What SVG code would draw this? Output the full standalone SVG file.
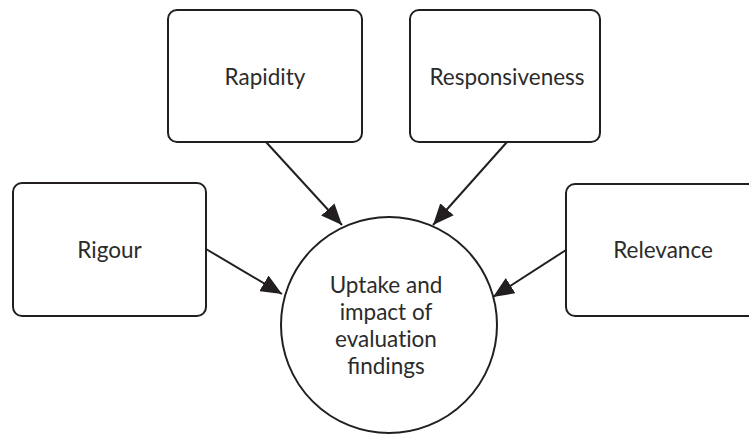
<svg xmlns="http://www.w3.org/2000/svg" width="749" height="437" viewBox="0 0 749 437">
<style>
.box{fill:#fff;stroke:#231f20;stroke-width:2}
.lbl{font-family:Lato,"Liberation Sans",sans-serif;font-size:22.5px;fill:#2b2b2b;text-anchor:middle}
.nolig{font-variant-ligatures:none}
.conn{stroke:#231f20;stroke-width:2;fill:none}
</style>
<defs>
<marker id="ah" markerUnits="userSpaceOnUse" markerWidth="22" markerHeight="18" refX="21" refY="9" orient="auto">
<path d="M0,0 L21,9 L0,18 Z" fill="#231f20"/>
</marker>
</defs>
<rect width="749" height="437" fill="#fff"/>
<g id="connectors">
<line class="conn" x1="266" y1="142" x2="342" y2="225" marker-end="url(#ah)"/>
<line class="conn" x1="507" y1="142" x2="433" y2="225" marker-end="url(#ah)"/>
<line class="conn" x1="206" y1="249" x2="282" y2="294" marker-end="url(#ah)"/>
<line class="conn" x1="566" y1="250" x2="493" y2="297" marker-end="url(#ah)"/>
</g>
<g id="rapidity">
<rect class="box" x="168" y="10" width="194" height="132" rx="9"/>
<text class="lbl" x="265" y="84.5">Rapidity</text>
</g>
<g id="responsiveness">
<rect class="box" x="410" y="10" width="190" height="132" rx="9"/>
<text class="lbl" x="507" y="84.5">Responsiveness</text>
</g>
<g id="rigour">
<rect class="box" x="13" y="183" width="193" height="133" rx="9"/>
<text class="lbl" x="109.5" y="257.5">Rigour</text>
</g>
<g id="relevance">
<rect class="box" x="566" y="184" width="194" height="132" rx="9"/>
<text class="lbl" x="663" y="257.5">Relevance</text>
</g>
<g id="uptake">
<circle class="box" cx="389" cy="325" r="108"/>
<text class="lbl" x="386" y="293">Uptake and</text>
<text class="lbl" x="386" y="320">impact of</text>
<text class="lbl nolig" x="386" y="347">evaluation</text>
<text class="lbl" x="386" y="374">findings</text>
</g>
</svg>
